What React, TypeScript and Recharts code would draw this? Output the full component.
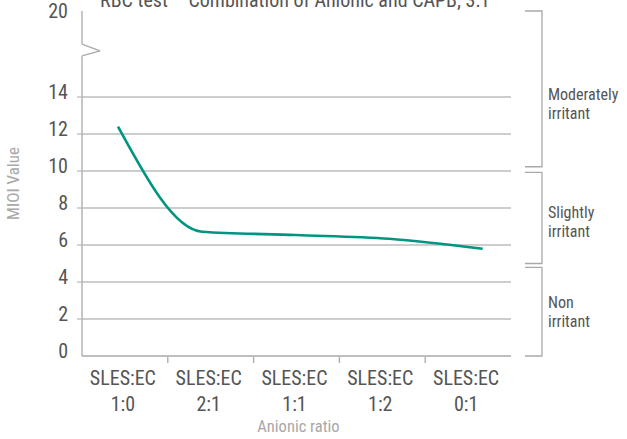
import React from 'react';
import { LineChart, Line, XAxis, YAxis, ReferenceLine, ReferenceArea, ReferenceDot } from 'recharts';

const FONT = "'Liberation Sans Narrow', 'Arial Narrow', 'Roboto Condensed', 'DejaVu Sans Condensed', sans-serif";

// ---- data ----
const chartTitle = 'RBC test \u2013 Combination of Anionic and CAPB, 3:1';
const categoryTop = ['SLES:EC', 'SLES:EC', 'SLES:EC', 'SLES:EC', 'SLES:EC'];
const categoryBottom = ['1:0', '2:1', '1:1', '1:2', '0:1'];
const ratioPosition = [0.42, 1.4, 2.49, 3.58, 4.67];
const mioiValues = [12.4, 6.72, 6.54, 6.34, 5.8];
const yTickValues = [0, 2, 4, 6, 8, 10, 12, 14, 18.35];
const yTickLabels = ['0', '2', '4', '6', '8', '10', '12', '14', '20'];
const gridValues = [2, 4, 6, 8, 10, 12, 14];
const yTop = 18.65;
const breakValues = [16.22, 16.49, 16.86];
const zoneLine1 = ['Moderately', 'Slightly', 'Non'];
const zoneLine2 = ['irritant', 'irritant', 'irritant'];
const zoneLow = [10.23, 5.0, 0];
const zoneHigh = [18.65, 9.93, 4.79];
const zoneLabelValue = [13.65, 7.3, 2.4];

const xBoundaryTicks = [1, 2, 3, 4];
const xCenterTicks = [0.5, 1.5, 2.5, 3.5, 4.5];
const xTicks = [...xCenterTicks, ...xBoundaryTicks].sort((a, b) => a - b);

const lineData = ratioPosition.map((x, i) => ({ x, mioi: mioiValues[i] }));

// ---- styles ----
const AXIS_GRAY = '#a9a9a9';
const GRID_GRAY = '#bdbdbd';
const TEXT_DARK = '#555555';
const TEXT_LIGHT = '#a8a8a8';
const TEAL = '#009581';

const bracketX1 = 5.163;
const bracketX2 = 5.361;
const zoneTextX = 5.431;

const XTick = (props: any) => {
  const { x, y, payload } = props;
  const v = payload.value;
  if (Number.isInteger(v)) {
    return <line x1={x} x2={x} y1={y + 1} y2={y + 7} stroke={AXIS_GRAY} strokeWidth={1.3} />;
  }
  const i = Math.round(v - 0.5);
  return (
    <g>
      <text x={x - 2} y={y + 29} textAnchor="middle" fontFamily={FONT} fontSize={20} fill={TEXT_DARK}>
        {categoryTop[i]}
      </text>
      <text x={x - 2} y={y + 55} textAnchor="middle" fontFamily={FONT} fontSize={20} fill={TEXT_DARK}>
        {categoryBottom[i]}
      </text>
    </g>
  );
};

const YTick = (props: any) => {
  const { x, y, payload } = props;
  const v = payload.value;
  const i = yTickValues.indexOf(v);
  return (
    <g>
      {gridValues.includes(v) && <line x1={x - 5} x2={x} y1={y} y2={y} stroke={GRID_GRAY} strokeWidth={1.3} />}
      <text x={x - 14} y={y + 1.5} textAnchor="end" fontFamily={FONT} fontSize={20} fill={TEXT_DARK}>
        {yTickLabels[i]}
      </text>
    </g>
  );
};

const Bracket = (props: any) => {
  const { x, y, width, height } = props;
  return (
    <path
      d={`M${x},${y} H${x + width} V${y + height} H${x}`}
      fill="none"
      stroke={AXIS_GRAY}
      strokeWidth={1.3}
    />
  );
};

const makeZoneText = (i: number) => (props: any) => {
  const { cx, cy } = props;
  return (
    <text x={cx} y={cy - 3.3} fontFamily={FONT} fontSize={16} fill={TEXT_DARK}>
      <tspan x={cx}>{zoneLine1[i]}</tspan>
      <tspan x={cx} dy={19}>{zoneLine2[i]}</tspan>
    </text>
  );
};

const YLabel = (props: any) => {
  const vb = props.viewBox || { x: 0, y: 11, width: 82, height: 345 };
  const cx = vb.x + 13;
  const cy = vb.y + vb.height / 2;
  return (
    <text
      x={cx}
      y={cy}
      transform={`rotate(-90 ${cx} ${cy})`}
      textAnchor="middle"
      dominantBaseline="central"
      fontFamily={FONT}
      fontSize={17}
      fill={TEXT_LIGHT}
    >
      MIOI Value
    </text>
  );
};

const XLabel = (props: any) => {
  const vb = props.viewBox || { x: 82, y: 356, width: 429, height: 83 };
  return (
    <text
      x={vb.x + vb.width / 2 + 2}
      y={vb.y + 76}
      textAnchor="middle"
      fontFamily={FONT}
      fontSize={16.5}
      fill={TEXT_LIGHT}
    >
      Anionic ratio
    </text>
  );
};

export default function App() {
  return (
    <div style={{ position: 'absolute', left: 0, top: 0, width: 627, height: 439, background: '#fff' }}>
      <LineChart
        width={627}
        height={439}
        data={lineData}
        margin={{ top: 11, right: 116, bottom: 0, left: 0 }}
      >
        <XAxis
          type="number"
          dataKey="x"
          domain={[0, 5]}
          ticks={xTicks}
          interval={0}
          allowDataOverflow
          height={83}
          tickLine={false}
          tickSize={0}
          tickMargin={0}
          axisLine={{ stroke: AXIS_GRAY, strokeWidth: 1.3 }}
          tick={<XTick />}
          label={<XLabel />}
        />
        <YAxis
          type="number"
          domain={[0, yTop]}
          ticks={yTickValues}
          interval={0}
          allowDataOverflow
          width={82}
          axisLine={false}
          tickLine={false}
          tickSize={0}
          tickMargin={0}
          tick={<YTick />}
          label={<YLabel />}
        />
        {gridValues.map((v) => (
          <ReferenceLine key={`g${v}`} y={v} stroke={GRID_GRAY} strokeWidth={1.3} />
        ))}
        <ReferenceLine segment={[{ x: 0, y: 0 }, { x: 0, y: breakValues[0] }]} stroke={AXIS_GRAY} strokeWidth={1.3} />
        <ReferenceLine segment={[{ x: 0, y: breakValues[0] }, { x: 0.21, y: breakValues[1] }]} stroke={AXIS_GRAY} strokeWidth={1.3} />
        <ReferenceLine segment={[{ x: 0.21, y: breakValues[1] }, { x: 0, y: breakValues[2] }]} stroke={AXIS_GRAY} strokeWidth={1.3} />
        <ReferenceLine segment={[{ x: 0, y: breakValues[2] }, { x: 0, y: yTop }]} stroke={AXIS_GRAY} strokeWidth={1.3} />
        {zoneLow.map((lo, i) => (
          <ReferenceArea
            key={`z${i}`}
            x1={bracketX1}
            x2={bracketX2}
            y1={lo}
            y2={zoneHigh[i]}
            ifOverflow="visible"
            shape={<Bracket />}
          />
        ))}
        {zoneLabelValue.map((v, i) => (
          <ReferenceDot
            key={`t${i}`}
            x={zoneTextX}
            y={v}
            r={0}
            ifOverflow="visible"
            shape={makeZoneText(i)}
          />
        ))}
        <Line
          type="monotone"
          dataKey="mioi"
          stroke={TEAL}
          strokeWidth={2.6}
          dot={false}
          activeDot={false}
          isAnimationActive={false}
        />
      </LineChart>
      <svg width={627} height={30} style={{ position: 'absolute', left: 0, top: 0, overflow: 'visible', pointerEvents: 'none' }}>
        <text x={295} y={6.5} textAnchor="middle" fontFamily={FONT} fontSize={20} fill={TEXT_DARK}>
          {chartTitle}
        </text>
      </svg>
    </div>
  );
}
